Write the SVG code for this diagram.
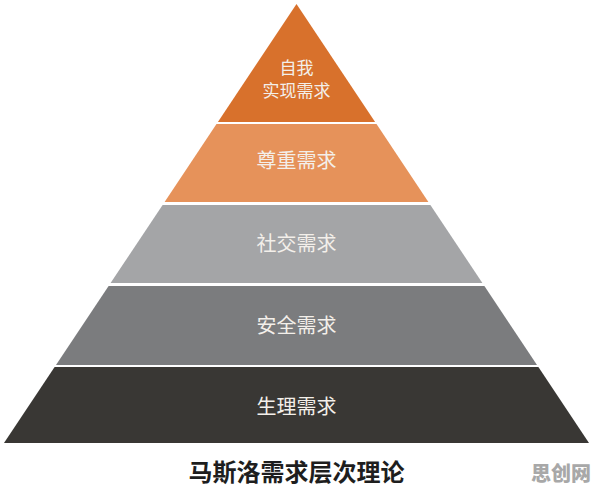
<svg xmlns="http://www.w3.org/2000/svg" width="596" height="491" viewBox="0 0 596 491">
<style>
.lbl{font-family:"Noto Sans CJK SC","Noto Sans",sans-serif;fill:#f3efea;text-anchor:middle;font-size:20px}
.sm{font-size:17px}
.title{font-family:"Noto Sans CJK SC",sans-serif;font-weight:bold;font-size:24px;fill:#1e1e1e;text-anchor:middle}
.wm{font-family:"Noto Sans CJK SC",sans-serif;font-weight:900;font-size:20px;fill:#a8a8a8;text-anchor:middle}
</style>
<rect width="596" height="491" fill="#ffffff"/>
<g id="layer-self">
<polygon points="296.5,4 375.1,122 217.9,122" fill="#d8712c"/>
<text class="lbl sm" x="296.5" y="74">自我</text>
<text class="lbl sm" x="296.5" y="97">实现需求</text>
</g>
<g id="layer-esteem">
<polygon points="216.5,124 376.5,124 428.4,202 164.6,202" fill="#e6925a"/>
<text class="lbl" x="296.5" y="168">尊重需求</text>
</g>
<g id="layer-social">
<polygon points="162.6,205 430.4,205 482.4,283 110.6,283" fill="#a4a5a7"/>
<text class="lbl" x="296.5" y="251">社交需求</text>
</g>
<g id="layer-safety">
<polygon points="108.6,286 484.4,286 537,365 56,365" fill="#7b7c7e"/>
<text class="lbl" x="296.5" y="333">安全需求</text>
</g>
<g id="layer-physio">
<polygon points="54.6,367 538.4,367 589,443 4,443" fill="#393734"/>
<text class="lbl" x="296.5" y="414">生理需求</text>
</g>
<g id="connectors"></g>
<text class="title" x="296.5" y="481">马斯洛需求层次理论</text>
<text class="wm" x="561" y="481">思创网</text>
</svg>
